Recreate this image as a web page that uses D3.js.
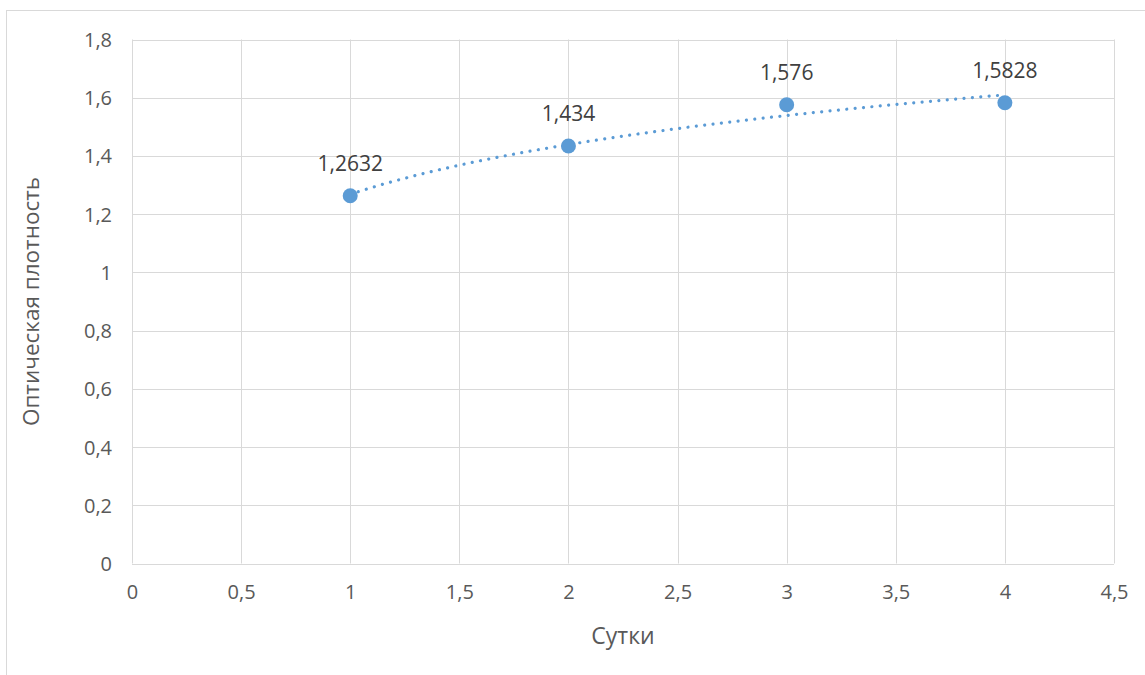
<!DOCTYPE html>
<html>
<head>
<meta charset="utf-8">
<script src="https://cdn.jsdelivr.net/npm/d3@7"></script>
<style>
  html, body { margin: 0; padding: 0; background: #fff; }
  svg { display: block; font-family: "Open Sans", "Noto Sans", sans-serif; }
</style>
</head>
<body>
<svg id="chart" width="1145" height="675"></svg>
<script>
// Measurements: day number and optical density
const days = [1, 2, 3, 4];
const density = [1.2632, 1.434, 1.576, 1.5828];
const densityLabels = ["1,2632", "1,434", "1,576", "1,5828"];
const xTicks = [0, 0.5, 1, 1.5, 2, 2.5, 3, 3.5, 4, 4.5];
const yTicks = [0, 0.2, 0.4, 0.6, 0.8, 1, 1.2, 1.4, 1.6, 1.8];
const xTitle = "Сутки";
const yTitle = "Оптическая плотность";

const svg = d3.select("#chart");
const W = 1145, H = 675;
const plot = { left: 132, right: 1114, top: 39.5, bottom: 563.5 };

const fmt = v => String(v).replace(".", ",");

// outer chart frame
svg.append("rect")
  .attr("x", 6.5).attr("y", 10.5)
  .attr("width", W + 10).attr("height", H + 10)
  .attr("fill", "#fff").attr("stroke", "#d9d9d9").attr("stroke-width", 1);

const x = d3.scaleLinear().domain([0, 4.5]).range([plot.left, plot.right]);
const y = d3.scaleLinear().domain([0, 1.8]).range([plot.bottom, plot.top]);

// gridlines
const grid = svg.append("g").attr("stroke", "#d9d9d9").attr("stroke-width", 1);
grid.selectAll("line.h").data(yTicks).join("line")
  .attr("x1", plot.left).attr("x2", plot.right)
  .attr("y1", d => Math.round(y(d)) + 0.5).attr("y2", d => Math.round(y(d)) + 0.5);
grid.selectAll("line.v").data(xTicks).join("line")
  .attr("y1", plot.top).attr("y2", plot.bottom)
  .attr("x1", d => Math.round(x(d)) + 0.5).attr("x2", d => Math.round(x(d)) + 0.5);

// axes (tick labels only, lines drawn by the grid)
const xAxis = svg.append("g")
  .attr("transform", `translate(0,${plot.bottom})`)
  .call(d3.axisBottom(x).tickValues(xTicks).tickFormat(fmt).tickSize(0).tickPadding(21));
const yAxis = svg.append("g")
  .attr("transform", `translate(${plot.left},0)`)
  .call(d3.axisLeft(y).tickValues(yTicks).tickFormat(fmt).tickSize(0).tickPadding(20));
[xAxis, yAxis].forEach(a => {
  a.select(".domain").remove();
  a.selectAll("text").attr("fill", "#595959").style("font-size", "20px")
    .style("font-family", "'Open Sans', sans-serif");
});
yAxis.selectAll("text").attr("dy", "0.35em");

// logarithmic trendline fitted to the measurements
const lx = days.map(Math.log);
const mx = d3.mean(lx), my = d3.mean(density);
const slope = d3.sum(lx, (v, i) => (v - mx) * (density[i] - my)) / d3.sum(lx, v => (v - mx) ** 2);
const icpt = my - slope * mx;
const trendX = d3.range(0, 61).map(i => 1 + i * 3 / 60);
svg.append("path")
  .datum(trendX)
  .attr("fill", "none")
  .attr("stroke", "#5b9bd5")
  .attr("stroke-width", 3.2)
  .attr("stroke-linecap", "round")
  .attr("stroke-dasharray", "0.01 8.4")
  .attr("d", d3.line().x(d => x(d)).y(d => y(icpt + slope * Math.log(d))));

// markers
svg.append("g").selectAll("circle").data(days).join("circle")
  .attr("cx", d => x(d))
  .attr("cy", (d, i) => y(density[i]))
  .attr("r", 7.5)
  .attr("fill", "#5b9bd5");

// data labels
svg.append("g").selectAll("text").data(days).join("text")
  .attr("x", d => x(d))
  .attr("y", (d, i) => y(density[i]) - 32)
  .attr("dy", "0.35em")
  .attr("text-anchor", "middle")
  .attr("fill", "#404040")
  .style("font-size", "21px")
  .text((d, i) => densityLabels[i]);

// axis titles
svg.append("text")
  .attr("x", (plot.left + plot.right) / 2)
  .attr("y", 636)
  .attr("dy", "0.35em")
  .attr("text-anchor", "middle")
  .attr("fill", "#595959")
  .style("font-size", "23px")
  .text(xTitle);
svg.append("text")
  .attr("transform", `translate(31,${(plot.top + plot.bottom) / 2}) rotate(-90)`)
  .attr("dy", "0.35em")
  .attr("text-anchor", "middle")
  .attr("fill", "#595959")
  .style("font-size", "22.5px")
  .text(yTitle);
</script>
</body>
</html>
